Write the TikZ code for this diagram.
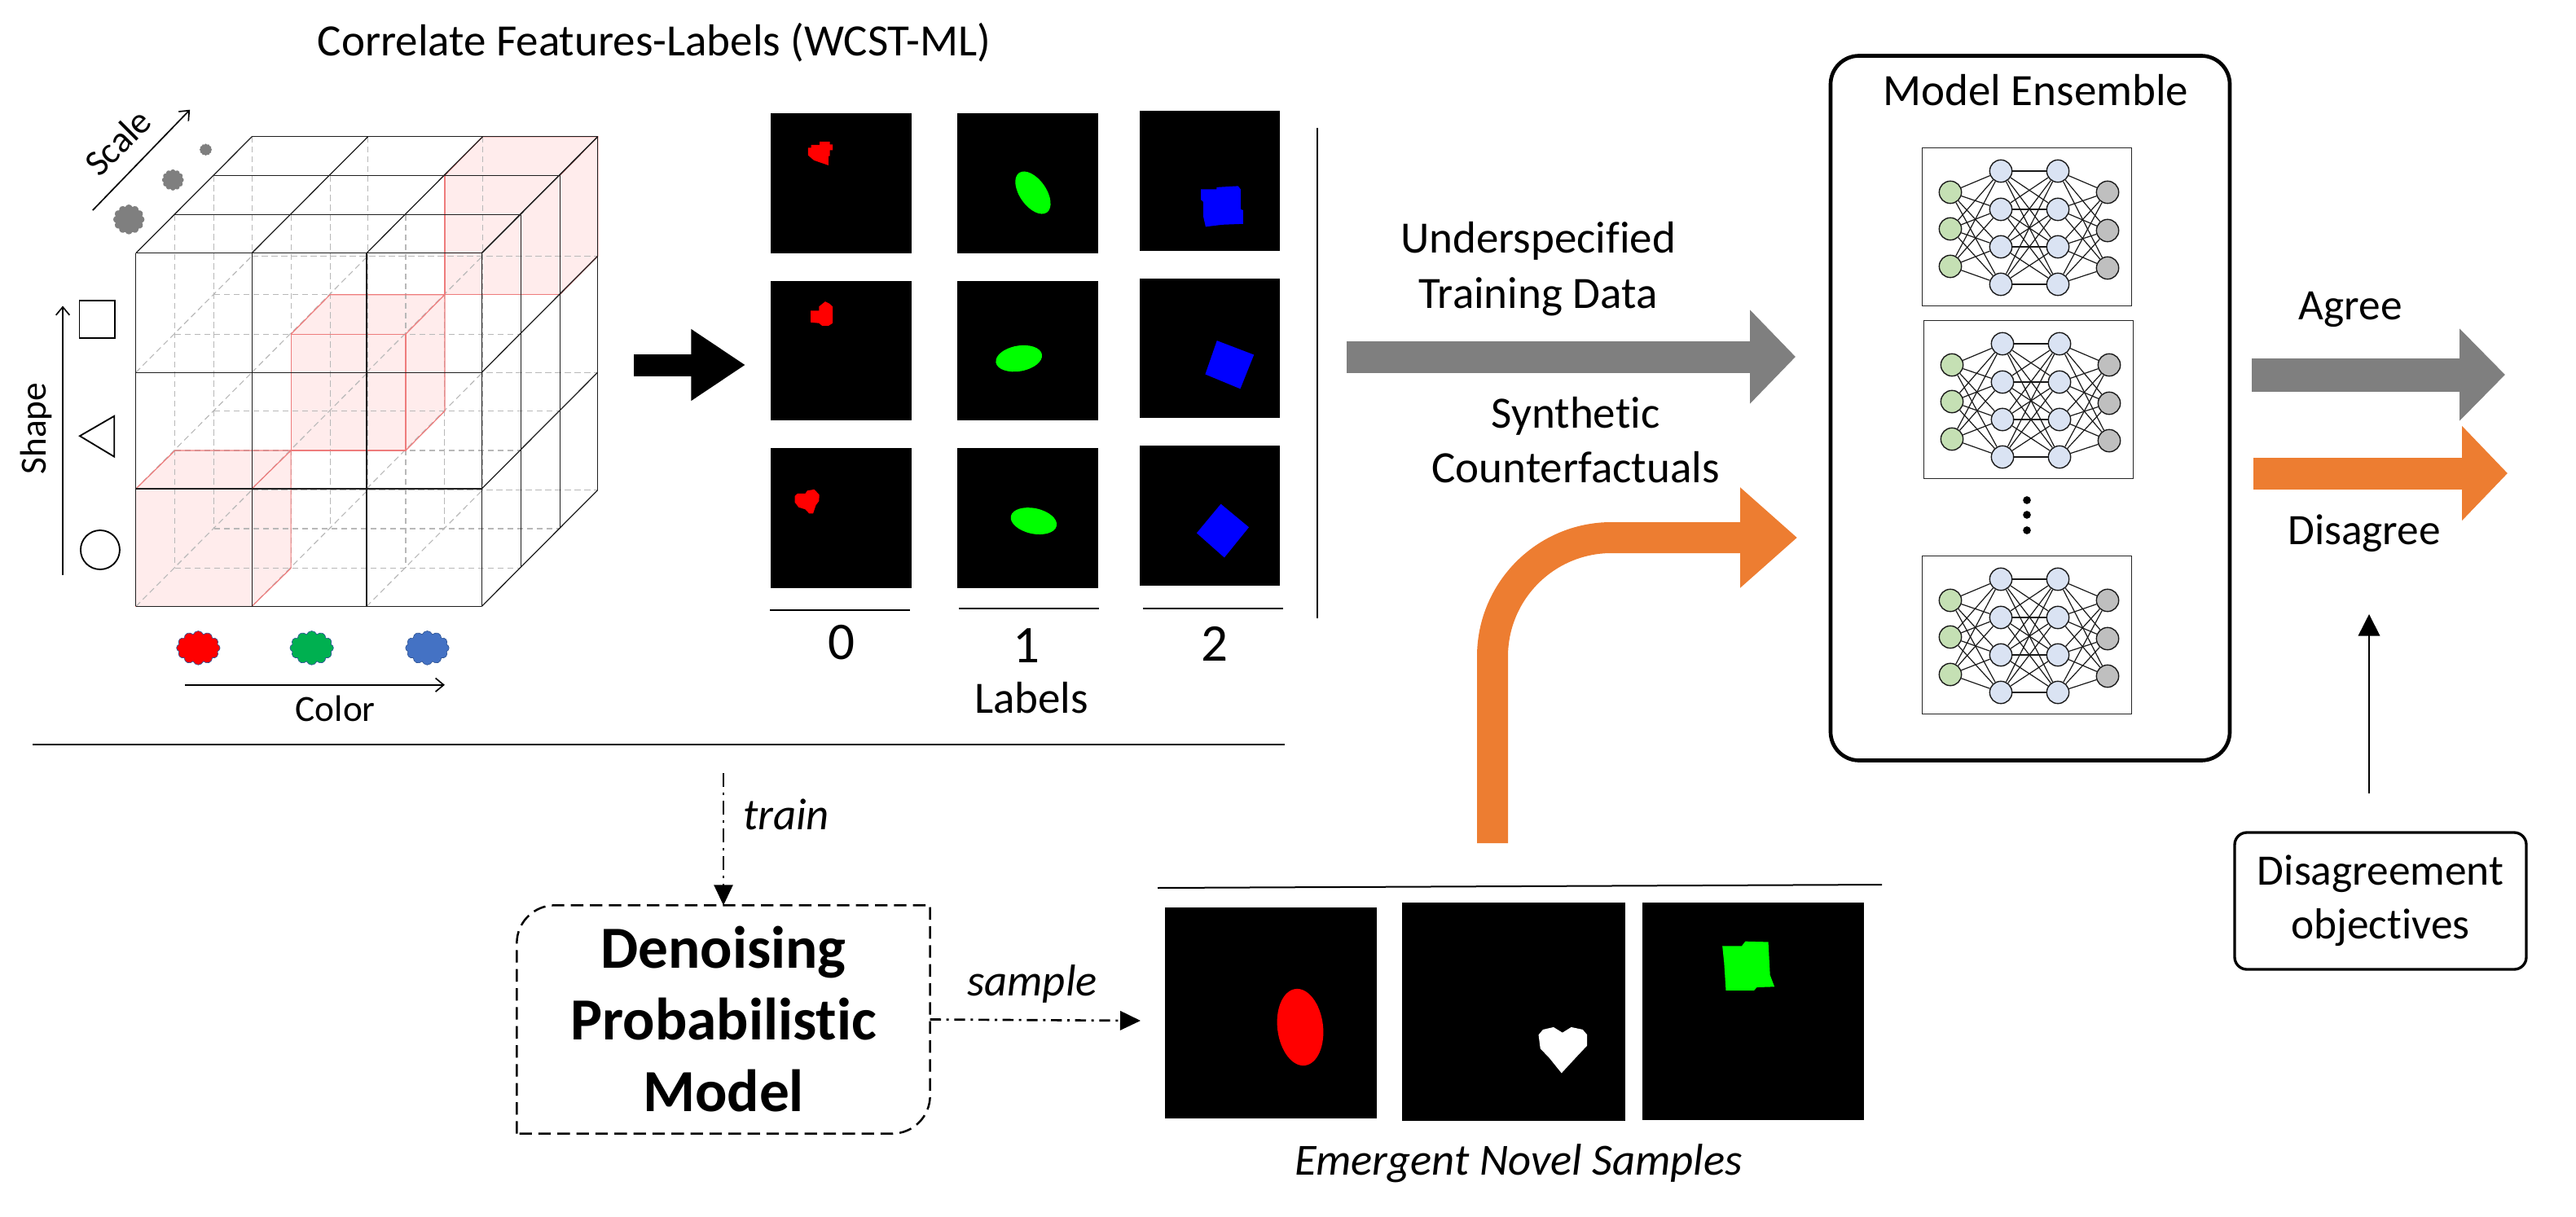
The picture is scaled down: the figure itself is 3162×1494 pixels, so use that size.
\documentclass[tikz,border=0pt]{standalone}
\usepackage{fontspec}
\setmainfont[Ligatures=NoCommon]{Carlito}
\usetikzlibrary{arrows.meta,shapes.symbols,shapes.geometric}
\definecolor{orng}{HTML}{ED7D31}
\definecolor{gry}{HTML}{7F7F7F}
\definecolor{pinkfill}{HTML}{FFECEC}
\definecolor{redline}{HTML}{EE7C7C}
\definecolor{nin}{HTML}{C5E0B4}
\definecolor{nhid}{HTML}{DAE3F3}
\definecolor{nout}{HTML}{BFBFBF}
\definecolor{blobgreen}{HTML}{00B050}
\definecolor{blobblue}{HTML}{4472C4}
\definecolor{blobedge}{HTML}{2F5597}
\tikzset{
  txt/.style={inner sep=0pt,font=\fontsize{16.5}{20.2}\selectfont,align=center,text=black},
  sidetxt/.style={inner sep=0pt,font=\fontsize{16}{19.8}\selectfont,align=center,text=black},
  smalltxt/.style={inner sep=0pt,font=\fontsize{13.6}{16}\selectfont},
  itxt/.style={inner sep=0pt,font=\fontsize{16.4}{20}\selectfont\itshape},
  digit/.style={inner sep=0pt,font=\fontsize{19.5}{24}\selectfont},
  solidgrid/.style={draw=black!88,line width=0.38pt},
  hiddengrid/.style={draw=black!28,line width=0.34pt,dash pattern=on 2.2pt off 1.4pt},
  redface/.style={fill=pinkfill,draw=none},
  rededge/.style={draw=redline,line width=0.36pt},
  thinarrow/.style={line width=0.5pt,-{Straight Barb[length=3pt,width=5pt,line width=0.5pt]}},
  blob/.style={cloud,cloud puffs=12,cloud puff arc=140,cloud ignores aspect,inner sep=0pt},
  colblob/.style={blob,draw=blobedge,line width=0.2pt,minimum width=16pt,minimum height=12.5pt},
  bigarrow/.style n args={4}{draw=#1,line width=#2,-{Triangle[length=#3,width=#4,sep=0pt]}},
  nnode/.style={circle,draw=black!90,line width=0.42pt,minimum size=8.2pt,inner sep=0pt},
  nedge/.style={draw=black!90,line width=0.36pt},
  netbox/.style={draw=black!85,fill=white,line width=0.3pt},
  rule/.style={line width=0.6pt},
}
\newcommand{\redcube}[6]{%
  \fill[redface] (c#1#3#5) -- (c#2#3#5) -- (c#2#4#5) -- (c#1#4#5) -- cycle;
  \fill[redface] (c#1#3#5) -- (c#1#3#6) -- (c#2#3#6) -- (c#2#3#5) -- cycle;
  \fill[redface] (c#2#3#5) -- (c#2#3#6) -- (c#2#4#6) -- (c#2#4#5) -- cycle;
}
\newcommand{\rededges}[6]{%
  \draw[rededge] (c#1#3#5) -- (c#2#3#5) -- (c#2#4#5) -- (c#1#4#5) -- cycle;
  \draw[rededge] (c#1#3#5) -- (c#1#3#6) -- (c#2#3#6) -- (c#2#3#5);
  \draw[rededge] (c#2#3#6) -- (c#2#4#6) -- (c#2#4#5);
}
\newcommand{\network}[3]{%
  \draw[netbox] (#2,#3) rectangle +(257,194);
  \begin{scope}[shift={(#2,#3)}]
    \foreach \n/\yy in {1/55,2/100,3/146} \node[nnode,fill=nin] (#1-a\n) at (35,\yy) {};
    \foreach \n/\yy in {1/29,2/76,3/122,4/168} {
      \node[nnode,fill=nhid] (#1-b\n) at (97,\yy) {};
      \node[nnode,fill=nhid] (#1-c\n) at (167,\yy) {};
    }
    \foreach \n/\yy in {1/55,2/102,3/148} \node[nnode,fill=nout] (#1-d\n) at (228,\yy) {};
    \foreach \p in {1,2,3} \foreach \q in {1,2,3,4} {
      \draw[nedge] (#1-a\p) -- (#1-b\q);
      \draw[nedge] (#1-c\q) -- (#1-d\p);
    }
    \foreach \p in {1,2,3,4} \foreach \q in {1,2,3,4} \draw[nedge] (#1-b\p) -- (#1-c\q);
  \end{scope}
}
\begin{document}
\begin{tikzpicture}[x=0.3pt,y=-0.3pt]
\useasboundingbox (0,0) rectangle (3162,1494);

\node[txt] (title) at (803,52) {Correlate Features-Labels (WCST-ML)};

% ---------- cube (coordinates of the cut-out, 1.96 per pixel)
\begin{scope}[shift={(0,100)},x=0.15306pt,y=-0.15306pt]
  \def\cxs{{327,606,882,1159}}
  \def\cys{{413,700,980,1263}}
  \def\dxs{{0,94,188,279}}
  \def\dys{{0,-92,-187,-280}}
  \foreach \i in {0,1,2,3} \foreach \j in {0,1,2,3} \foreach \k in {0,1,2,3} {
    \pgfmathsetmacro\X{\cxs[\i]+\dxs[\k]}
    \pgfmathsetmacro\Y{\cys[\j]+\dys[\k]}
    \coordinate (c\i\j\k) at (\X,\Y);
  }
  \redcube{0}{1}{2}{3}{0}{1}
  \redcube{1}{2}{1}{2}{1}{2}
  \redcube{2}{3}{0}{1}{2}{3}
  % hidden edges
  \foreach \k in {1,2,3} {
    \foreach \j in {1,2,3} \draw[hiddengrid] (c0\j\k) -- (c3\j\k);
    \foreach \i in {0,1,2} \draw[hiddengrid] (c\i0\k) -- (c\i3\k);
  }
  \foreach \i in {0,1,2} \foreach \j in {1,2,3} \draw[hiddengrid] (c\i\j0) -- (c\i\j3);
  \rededges{1}{2}{1}{2}{1}{2}
  \rededges{2}{3}{0}{1}{2}{3}
  \rededges{0}{1}{2}{3}{0}{1}
  % visible edges
  \foreach \i in {0,1,2,3} {
    \draw[solidgrid] (c\i00) -- (c\i30);
    \draw[solidgrid] (c\i00) -- (c\i03);
  }
  \foreach \j in {0,1,2,3} {
    \draw[solidgrid] (c0\j0) -- (c3\j0);
    \draw[solidgrid] (c3\j0) -- (c3\j3);
  }
  \foreach \k in {1,2,3} {
    \draw[solidgrid] (c00\k) -- (c30\k);
    \draw[solidgrid] (c30\k) -- (c33\k);
  }
  % axes
  \coordinate (scale-a) at (223,310);
  \coordinate (scale-b) at (457,68);
  \coordinate (shape-a) at (151,1187);
  \coordinate (shape-b) at (151,540);
  \coordinate (color-a) at (445,1452);
  \coordinate (color-b) at (1070,1452);
  \draw[thinarrow] (scale-a) -- (scale-b);
  \draw[thinarrow] (shape-a) -- (shape-b);
  \draw[thinarrow] (color-a) -- (color-b);
  \node[smalltxt,rotate=45] (scale-label) at (283,146) {Scale};
  \node[smalltxt,rotate=90] (shape-label) at (88,835) {Shape};
  \node[smalltxt] (color-label) at (807,1510) {Color};
  % scale blobs
  \node[blob,fill=gry,minimum width=11.5pt,minimum height=11pt] (scale-big) at (310,332) {};
  \node[blob,fill=gry,minimum width=8pt,minimum height=7.8pt] (scale-mid) at (416,237) {};
  \node[blob,fill=gry,minimum width=4.6pt,minimum height=4.4pt] (scale-small) at (495,164) {};
  % colour blobs
  \node[colblob,fill=red] (col-red) at (477,1363) {};
  \node[colblob,fill=blobgreen] (col-green) at (750,1363) {};
  \node[colblob,fill=blobblue] (col-blue) at (1028,1363) {};
  % shape icons
  \draw[line width=0.55pt] (191,527) rectangle (277,617);
  \draw[line width=0.55pt] (192,853) -- (275,805) -- (275,903) -- cycle;
  \draw[line width=0.55pt] (241,1127) circle [radius=7.2pt];
\end{scope}

% ---------- black arrow into the tiles
\coordinate (cube-out) at (778,448);
\coordinate (tiles-in) at (915,448);
\draw[bigarrow={black}{8.1pt}{20pt}{25pt}] (cube-out) -- (tiles-in);

% ---------- tiles
\fill (946,139) rectangle (1119,311);
\fill (1175,139) rectangle (1348,311);
\fill (1399,136) rectangle (1571,308);
\fill (946,345) rectangle (1119,516);
\fill (1175,345) rectangle (1348,516);
\fill (1399,342) rectangle (1571,513);
\fill (946,550) rectangle (1119,722);
\fill (1175,550) rectangle (1348,722);
\fill (1399,547) rectangle (1571,719);
\begin{scope}[shift={(900,110)},x=0.14354pt,y=-0.15306pt]
  \fill[red] (192,140) -- (200,140) -- (200,133) -- (222,133) -- (222,125) -- (248,125) -- (248,132) -- (255,132) -- (255,146) -- (248,146) -- (248,160) -- (244,160) -- (244,182) -- (222,175) -- (207,170) -- (192,158) -- cycle;
  \fill[red] (199,532) -- (220,532) -- (220,522) -- (236,510) -- (247,515) -- (255,522) -- (255,562) -- (245,568) -- (228,568) -- (220,562) -- (199,560) -- cycle;
  \fill[red] (158,978) -- (165,972) -- (185,972) -- (190,965) -- (208,962) -- (221,975) -- (220,990) -- (212,1000) -- (205,1020) -- (195,1020) -- (185,1010) -- (168,1005) -- (158,993) -- cycle;
  \fill[green] (769,248) ellipse [x radius=8.9pt,y radius=4.9pt,rotate=-55];
  \fill[green] (733,647) ellipse [x radius=8.6pt,y radius=4.7pt,rotate=10];
  \fill[green] (771,1038) ellipse [x radius=8.6pt,y radius=4.7pt,rotate=-12];
  \fill[blue] (1200,240) -- (1240,240) -- (1240,235) -- (1295,232) -- (1302,240) -- (1302,288) -- (1308,290) -- (1308,323) -- (1255,325) -- (1212,330) -- (1206,305) -- (1206,270) -- (1200,265) -- cycle;
  \fill[blue] (1241,604) -- (1336,638) -- (1301,720) -- (1211,685) -- cycle;
  \fill[blue] (1251,997) -- (1323,1053) -- (1260,1126) -- (1189,1067) -- cycle;
\end{scope}
\draw[rule] (945,749) -- (1117,749);
\draw[rule] (1177,747) -- (1349,747);
\draw[rule] (1403,747) -- (1575,747);
\draw[rule] (1617,157) -- (1617,759);
\node[digit] (lab0) at (1033,789) {0};
\node[digit] (lab1) at (1260,793) {1};
\node[digit] (lab2) at (1491,790) {2};
\node[txt] (labels) at (1266,857) {Labels};
\draw[rule] (40,914) -- (1577,914);

% ---------- big arrows
\coordinate (under-a) at (1653,438);
\coordinate (under-b) at (2204,438);
\draw[bigarrow={gry}{11.7pt}{16.8pt}{33.6pt}] (under-a) -- (under-b);
\node[txt] (under) at (1888,330) {Underspecified\\Training Data};
\node[txt] (synth) at (1934,540) {Synthetic\\Counterfactuals};
\coordinate (syn-a) at (1832,1035);
\coordinate (syn-b) at (2206,660);
\draw[bigarrow={orng}{11.4pt}{21pt}{35.7pt},rounded corners=43.8pt] (syn-a) |- (syn-b);

% ---------- ensemble
\node[draw,line width=1.4pt,rounded corners=10.5pt,minimum width=147pt,minimum height=259.5pt,inner sep=0pt] (ensemble) at (2492,501) {};
\node[txt] (ens-title) at (2499,111) {Model Ensemble};
\network{neta}{2359}{181}
\network{netb}{2361}{393}
\network{netc}{2359}{682}
\foreach \yy in {614,632,651} \fill (2488,\yy) circle [radius=1.45pt];

% ---------- outputs
\coordinate (agree-a) at (2764,460);
\coordinate (agree-b) at (3075,460);
\draw[bigarrow={gry}{12.3pt}{16.8pt}{33pt}] (agree-a) -- (agree-b);
\coordinate (dis-a) at (2766,581);
\coordinate (dis-b) at (3078,581);
\draw[bigarrow={orng}{11.7pt}{16.8pt}{33.9pt}] (dis-a) -- (dis-b);
\node[sidetxt] (agree) at (2885,380) {Agree};
\node[sidetxt] (disagree) at (2902,655) {Disagree};
\node[sidetxt,draw,line width=1pt,rounded corners=4.5pt,minimum width=107.4pt,minimum height=50.4pt] (objectives) at (2922,1106) {Disagreement\\objectives};
\coordinate (obj-a) at (2908,974);
\coordinate (obj-b) at (2908,754);
\draw[line width=0.5pt,-{Triangle[length=8pt,width=8pt]}] (obj-a) -- (obj-b);

% ---------- denoising model
\node[inner sep=0pt,minimum width=151.8pt,minimum height=83.7pt,align=center,font=\fontsize{22}{26.4}\selectfont\bfseries] (dpm) at (888,1251.5) {Denoising\\Probabilistic\\Model};
\draw[line width=0.75pt,dash pattern=on 4.6pt off 2.4pt]
  (dpm.south west) -- ([yshift=-14pt]dpm.north west) arc [start angle=180,end angle=90,radius=14pt]
  -- (dpm.north east) -- ([yshift=14pt]dpm.south east) arc [start angle=0,end angle=-90,radius=14pt] -- cycle;
\coordinate (train-a) at (888,949);
\draw[line width=0.42pt,dash pattern=on 5pt off 2.2pt on 0.8pt off 2.2pt,-{Triangle[length=7.5pt,width=7pt]}] (train-a) -- (dpm.north);
\node[itxt] (train) at (965,1000) {train};
\coordinate (sample-b) at (1400,1253);
\draw[line width=0.8pt,dash pattern=on 4pt off 2pt on 0.9pt off 2pt,-{Triangle[length=7.5pt,width=7pt]}] (dpm.east) -- (sample-b);
\node[itxt] (sample) at (1267,1208) {sample};

% ---------- samples
\draw[rule] (1421,1090) -- (2310,1086);
\fill (1430,1114) rectangle (1690,1373);
\fill (1721,1108) rectangle (1995,1376);
\fill (2016,1108) rectangle (2288,1375);
\fill[red] (1596,1261) ellipse [x radius=14.2pt,y radius=8.4pt,rotate=97];
\begin{scope}[shift={(600,900)},x=0.3254pt,y=-0.1128pt]
  \fill[white] (1188,985) -- (1193,968) -- (1205,960) -- (1215,978) -- (1225,960) -- (1238,968) -- (1243,985) -- (1243,1020) -- (1230,1060) -- (1214,1110) -- (1200,1060) -- (1190,1030) -- cycle;
  \fill[green] (1396,695) -- (1418,695) -- (1422,680) -- (1448,682) -- (1450,790) -- (1455,828) -- (1435,830) -- (1432,840) -- (1400,840) -- (1398,750) -- cycle;
\end{scope}
\node[itxt] (emergent) at (1864,1428) {Emergent Novel Samples};
\end{tikzpicture}
\end{document}
